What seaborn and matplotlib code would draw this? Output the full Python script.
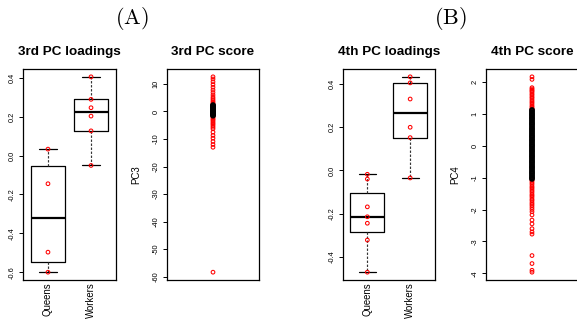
import numpy as np
import pandas as pd
import matplotlib
matplotlib.use("Agg")
import matplotlib.pyplot as plt
import seaborn as sns

# ---------------- data ----------------
groups = ["Queens", "Workers"]
pc3_queens = [0.033, -0.145, -0.497, -0.600]
pc3_workers = [0.405, 0.289, 0.246, 0.203, 0.127, -0.051]
pc4_queens = [-0.018, -0.040, -0.169, -0.215, -0.245, -0.323, -0.472]
pc4_workers = [0.434, 0.406, 0.331, 0.200, 0.152, -0.035]

pc3_score_tail = [12.6, 11.8, 10.8, 9.8, 8.8, 7.8, 6.9, 6.0, 5.2, 4.6, 4.0, 3.5,
                  3.0, 2.6, -1.8, -2.2, -2.7, -3.1, -3.6, -4.1, -4.6, -5.1, -5.7,
                  -6.3, -7.5, -8.7, -9.7, -10.9, -12.0, -13.0, -58.4]
pc3_score_core = [2.3, 1.9, 1.4, 1.0, 0.5, 0.1, -0.3, -0.8, -1.1, -1.5]

pc4_score_tail = [2.15, 2.07, 1.81, 1.77, 1.73, 1.70, 1.66, 1.61, 1.57, 1.52, 1.48,
                  1.43, 1.38, 1.34, 1.29, 1.24, 1.20, 1.16, 1.13,
                  -1.08, -1.12, -1.17, -1.22, -1.28, -1.32, -1.37, -1.42, -1.47,
                  -1.53, -1.57, -1.62, -1.68, -1.72, -1.78, -1.83, -1.88, -1.94,
                  -2.00, -2.07, -2.17, -2.33, -2.45, -2.60, -2.70, -2.77, -3.44,
                  -3.69, -3.90, -3.96]
pc4_score_core = [1.11, 1.05, 0.99, 0.94, 0.88, 0.83, 0.77, 0.71, 0.66, 0.60, 0.54,
                  0.49, 0.43, 0.37, 0.31, 0.26, 0.20, 0.15, 0.09, 0.03, -0.02,
                  -0.08, -0.14, -0.19, -0.25, -0.31, -0.36, -0.42, -0.48, -0.53,
                  -0.59, -0.65, -0.70, -0.76, -0.82, -0.87, -0.93, -0.99, -1.04]

pc3_load_ticks = [0.4, 0.2, 0.0, -0.2, -0.4, -0.6]
pc4_load_ticks = [0.4, 0.2, 0.0, -0.2, -0.4]
pc3_score_ticks = [10, 0, -10, -20, -30, -40, -50, -60]
pc4_score_ticks = [2, 1, 0, -1, -2, -3, -4]

titles = ["3rd PC loadings", "3rd PC score", "4th PC loadings", "4th PC score"]
score_labels = ["PC3", "PC4"]
panel_tags = ["(A)", "(B)"]

# ---------------- style ----------------
sns.set_style("ticks")
plt.rcParams["font.family"] = ["Liberation Sans", "DejaVu Sans"]
plt.rcParams["mathtext.fontset"] = "cm"
plt.rcParams["axes.unicode_minus"] = False
for k in ("text.color", "axes.labelcolor", "xtick.color", "ytick.color",
          "axes.edgecolor"):
    plt.rcParams[k] = "black"

W, H = 577, 320
fig = plt.figure(figsize=(W / 100, H / 100), dpi=100)
fig.patch.set_facecolor("white")


def fivenum(v):
    x = np.sort(np.asarray(v, float))
    n = len(x)
    n4 = np.floor((n + 3) / 2) / 2
    d = np.array([1, n4, (n + 1) / 2, n + 1 - n4, n])
    return 0.5 * (x[np.floor(d - 1).astype(int)] + x[np.ceil(d - 1).astype(int)])


def make_ax(left_px, right_px):
    top_px, bot_px = 69, 280
    ax = fig.add_axes([left_px / W, 1 - bot_px / H,
                       (right_px - left_px) / W, (bot_px - top_px) / H])
    ax.set_facecolor("white")
    for s in ax.spines.values():
        s.set_visible(True)
        s.set_color("black")
        s.set_linewidth(0.9)
    ax.tick_params(axis="y", length=3.2, width=0.7, pad=2.0, labelsize=5.3,
                   colors="black", labelrotation=90)
    return ax


def center_labels(ax):
    for lab in ax.get_yticklabels():
        lab.set_va("center")


def loadings_panel(ax, queens, workers, ticks, title):
    stats = []
    for vals in (queens, workers):
        lo, q1, med, q3, hi = fivenum(vals)
        stats.append(dict(med=med, q1=q1, q3=q3, whislo=lo, whishi=hi, fliers=[]))
    ax.bxp(stats, positions=[0, 1], widths=0.8, capwidths=0.4, showfliers=False,
           boxprops=dict(color="black", linewidth=0.9),
           whiskerprops=dict(color="0.2", linewidth=0.85, linestyle=(0, (2, 1.4))),
           capprops=dict(color="black", linewidth=0.9),
           medianprops=dict(color="black", linewidth=1.6))
    df = pd.DataFrame({
        "group": [groups[0]] * len(queens) + [groups[1]] * len(workers),
        "value": list(queens) + list(workers)})
    df["pos"] = df["group"].map({g: i for i, g in enumerate(groups)})
    sns.scatterplot(data=df, x="pos", y="value", color="red", facecolors="none",
                    edgecolor="red", s=7, linewidth=0.75, ax=ax, legend=False,
                    zorder=4)
    ax.set_xlim(-0.58, 1.58)
    ax.margins(y=0.04)
    ax.set_xticks([0, 1])
    ax.set_xticklabels(groups, rotation=90, fontsize=6.9, va="top")
    ax.tick_params(axis="x", length=0, pad=1.5)
    ax.set_yticks(ticks)
    ax.set_yticklabels([f"{t:.1f}" for t in ticks])
    center_labels(ax)
    ax.set_xlabel("")
    ax.set_ylabel("")
    ax.set_title(title, fontsize=9.7, fontweight="bold", pad=10)


def score_panel(ax, tail, core, ticks, ylabel, title):
    sns.scatterplot(x=np.ones(len(tail)), y=tail, color="red", facecolors="none",
                    edgecolor="red", s=7, linewidth=0.75, ax=ax, legend=False,
                    zorder=3)
    sns.scatterplot(x=np.ones(len(core)), y=core, color="black", facecolors="none",
                    edgecolor="black", s=8, linewidth=1.4, ax=ax, legend=False,
                    zorder=4)
    ax.set_xlim(0.5, 1.5)
    ax.margins(y=0.04)
    ax.set_xticks([])
    ax.set_yticks(ticks)
    ax.set_yticklabels([str(t) for t in ticks])
    center_labels(ax)
    ax.set_xlabel("")
    ax.set_ylabel(ylabel, fontsize=7.0)
    ax.yaxis.set_label_coords(-0.27, 0.5)
    ax.set_title(title, fontsize=9.7, fontweight="bold", pad=10)


ax1 = make_ax(23, 116)
loadings_panel(ax1, pc3_queens, pc3_workers, pc3_load_ticks, titles[0])
ax2 = make_ax(166.7, 259.3)
score_panel(ax2, pc3_score_tail, pc3_score_core, pc3_score_ticks, score_labels[0], titles[1])
ax3 = make_ax(342.5, 435)
loadings_panel(ax3, pc4_queens, pc4_workers, pc4_load_ticks, titles[2])
ax4 = make_ax(485.7, 578.3)
score_panel(ax4, pc4_score_tail, pc4_score_core, pc4_score_ticks, score_labels[1], titles[3])

fig.text(131.7 / W, 1 - 19 / H, r"$\mathrm{" + panel_tags[0] + "}$", fontsize=16,
         ha="center", va="center")
fig.text(450.8 / W, 1 - 19 / H, r"$\mathrm{" + panel_tags[1] + "}$", fontsize=16,
         ha="center", va="center")

fig.savefig("out.png", dpi=100, facecolor="white")
